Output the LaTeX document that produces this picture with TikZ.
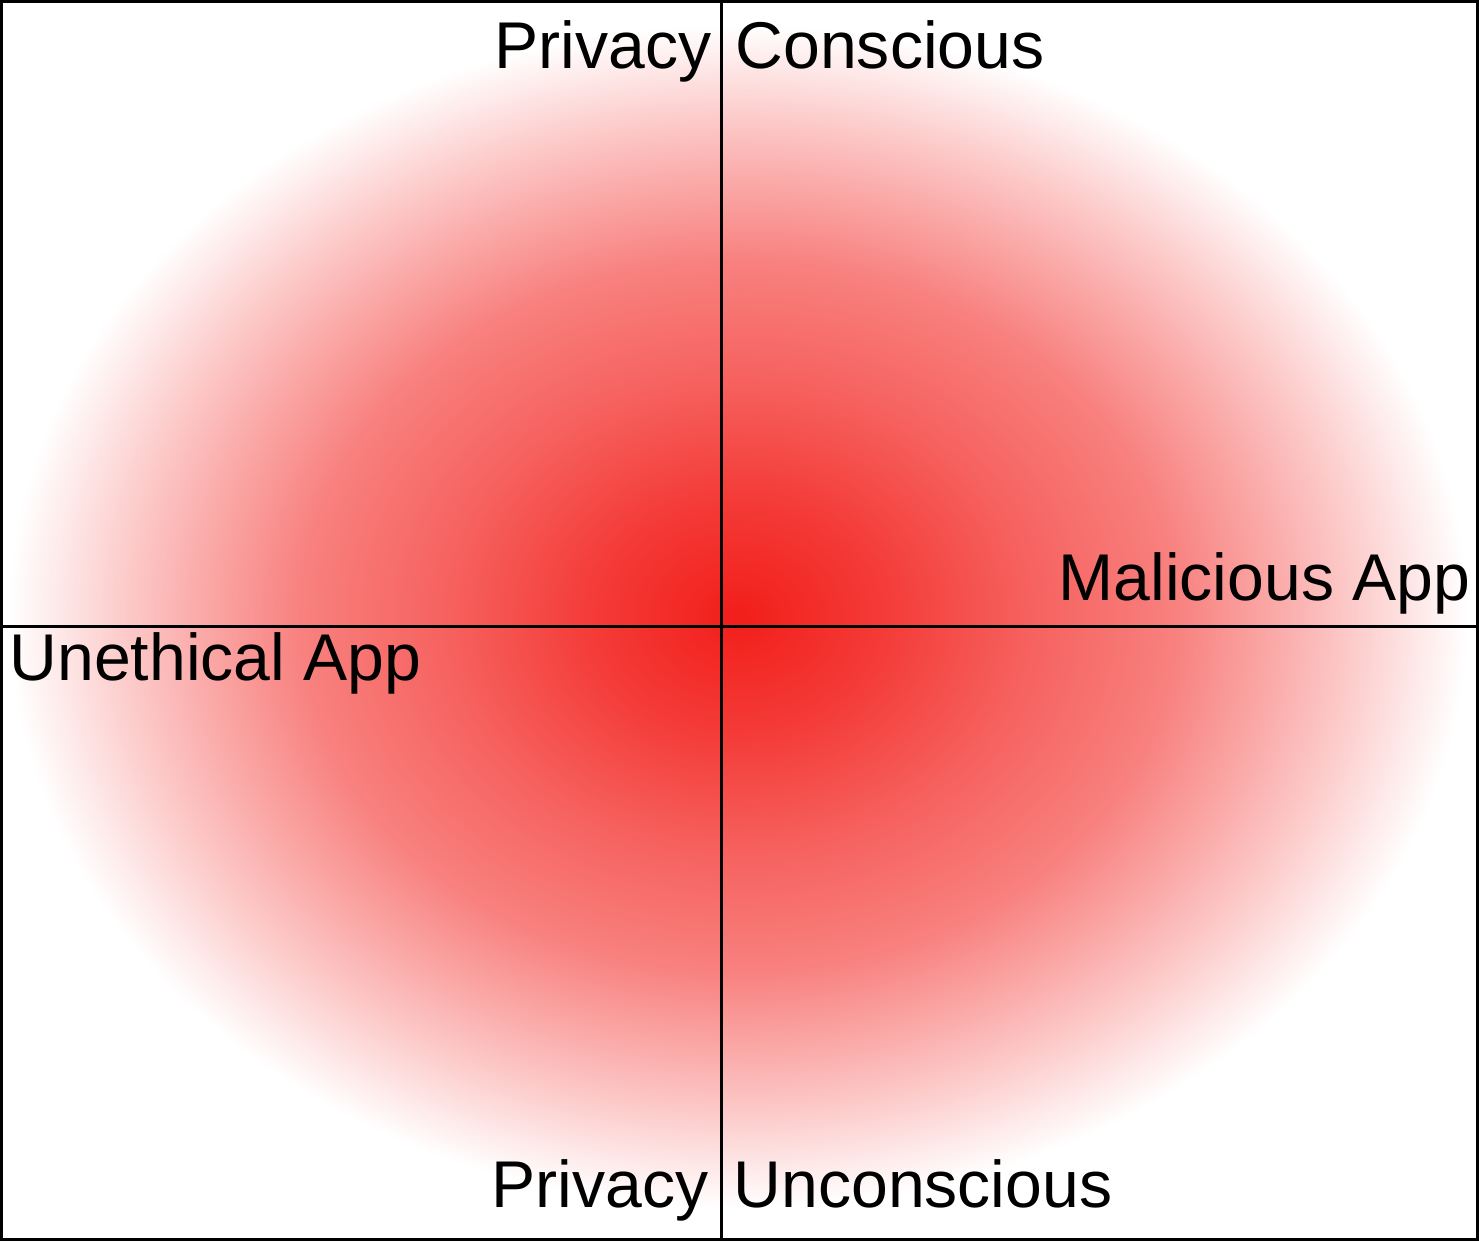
\documentclass[tikz,border=0pt]{standalone}
\usepackage{fontspec}
\setmainfont{Liberation Sans}
\usepackage{tikz}
\usepackage{xcolor}
\usetikzlibrary{shadings}
\definecolor{riskred}{RGB}{242,30,26}
\pgfdeclareradialshading{riskcloud}{\pgfpoint{0bp}{0bp}}{%
    color(0bp)=(riskred); color(5bp)=(riskred!87); color(10bp)=(riskred!70);
    color(15bp)=(riskred!56); color(18.75bp)=(riskred!36); color(21.25bp)=(riskred!22);
    color(25bp)=(white); color(50bp)=(white)}
\newcommand{\labelsize}{\fontsize{18.8}{22}\selectfont}
\tikzset{axislabel/.style={inner sep=0pt, font=\labelsize}}

\begin{document}
\begin{tikzpicture}[x=0.01cm, y=-0.01cm]
    \useasboundingbox (0,0) rectangle (1479,1241);
    % risk cloud
    \shade[shading=riskcloud] (738,616) ellipse (730 and 592);
    % frame and axes
    \draw[line width=0.85pt] (1.5,1.5) rectangle (1477.5,1239.5);
    \coordinate (top) at (721.5,1.5);
    \coordinate (bottom) at (721.5,1239.5);
    \coordinate (left) at (1.5,626.5);
    \coordinate (right) at (1477.5,626.5);
    \draw[line width=0.85pt] (top) -- (bottom);
    \draw[line width=0.85pt] (left) -- (right);
    % labels
    \node[axislabel, anchor=base east] (pcl) at (712,68) {Privacy};
    \node[axislabel, anchor=base west] (pcr) at (735,68) {Conscious};
    \node[axislabel, anchor=base east] (pul) at (709,1207) {Privacy};
    \node[axislabel, anchor=base west] (pur) at (733,1207) {Unconscious};
    \node[axislabel, anchor=base east] (mal) at (1471,600) {Malicious App};
    \node[axislabel, anchor=base west] (uneth) at (9,680) {Unethical App};
\end{tikzpicture}
\end{document}
